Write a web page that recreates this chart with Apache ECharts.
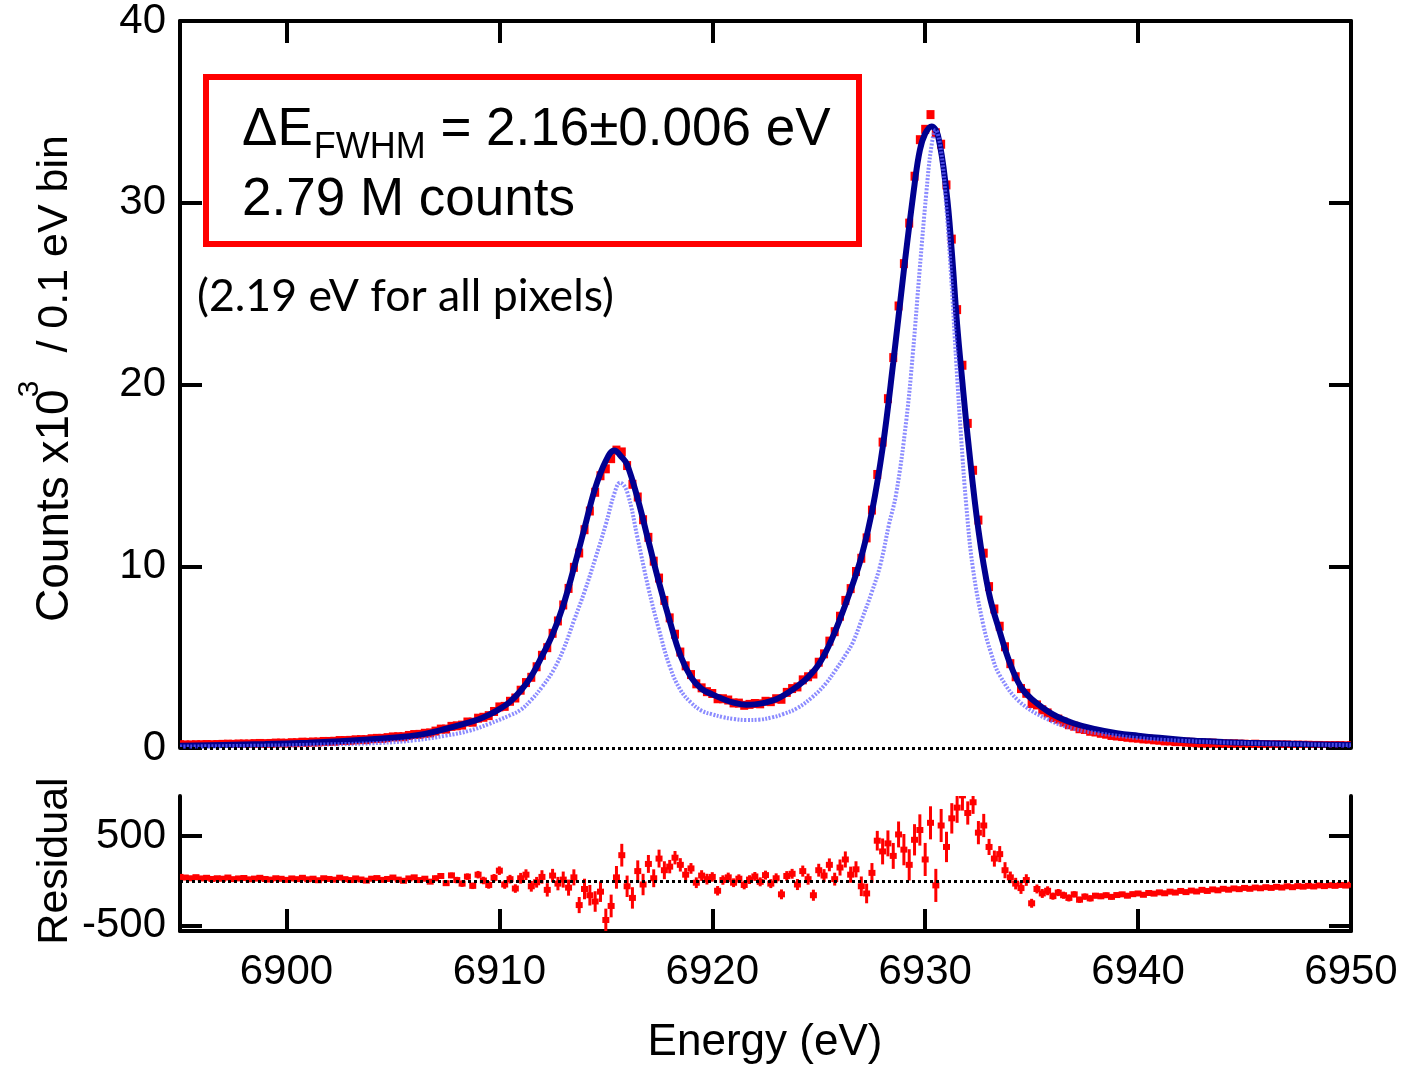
<!DOCTYPE html>
<html>
<head>
<meta charset="utf-8">
<script src="https://cdn.jsdelivr.net/npm/echarts@6/dist/echarts.min.js"></script>
<style>
html,body{margin:0;padding:0;background:#fff;}
#chart{width:1423px;height:1067px;}
</style>
</head>
<body>
<div id="chart"></div>
<script>
// ---------------- DATA ----------------
// measured spectrum, one value per 0.25 eV bin starting at 6895 eV (counts x10^3)
const binStart = 6895, binWidth = 0.25;
const counts = [
0.18,0.17,0.17,0.18,0.18,0.19,0.18,0.19,0.20,0.21,0.20,0.22,0.22,0.22,0.24,0.25,0.24,0.25,0.27,0.27,
0.26,0.29,0.29,0.32,0.31,0.33,0.33,0.36,0.36,0.37,0.41,0.41,0.42,0.45,0.46,0.46,0.51,0.53,0.53,0.57,
0.61,0.62,0.62,0.69,0.74,0.75,0.81,0.83,0.93,
1.04,1.04,1.19,1.22,1.26,1.43,1.42,1.64,1.69,1.78,2.01,2.26,
2.29,2.57,2.75,3.18,3.60,3.89,4.47,5.10,5.52,6.31,6.99,7.87,8.78,
9.94,10.73,12.01,13.04,14.07,14.98,15.36,
15.92,16.39,16.29,15.54,14.51,13.81,12.56,11.59,10.28,9.35,8.12,7.16,
6.26,5.28,4.52,4.04,3.53,3.31,
3.10,3.00,2.71,2.71,2.64,2.48,2.47,2.35,2.40,2.45,2.43,2.57,2.55,2.71,2.68,3.06,3.27,3.36,3.75,3.92,4.07,
4.72,5.18,5.88,6.40,7.25,8.12,8.77,9.71,10.44,11.56,13.09,15.05,16.83,
19.22,21.48,24.32,26.65,28.88,31.46,33.47,34.04,
34.85,33.85,33.22,30.98,28.00,24.12,21.06,17.86,15.28,12.54,10.72,
8.88,7.65,6.70,5.57,4.64,3.92,3.27,3.01,
2.45,2.37,2.10,1.93,1.68,1.59,1.43,1.28,1.20,1.06,1.02,0.92,0.88,
0.81,0.76,0.69,0.66,0.63,0.59,0.56,0.54,0.50,0.49,0.45,0.43,0.39,0.39,0.35,0.35,0.32,0.31,0.28,0.28,
0.26,0.27,0.24,0.24,0.22,0.23,0.21,0.21,0.19,0.21,0.19,0.19,0.17,0.18,0.17,0.17,0.15,0.16,0.15,0.15,
0.14,0.14,0.13,0.13,0.13,0.13,0.12,0.12
];
// residual (counts), same bins
const residual = [
45,38,30,42,28,35,22,30,25,38,20,28,33,18,26,35,22,15,30,24,12,28,20,35,18,25,8,30,22,14,36,20,10,28,16,4,25,32,12,22,38,15,2,28,40,10,25,-8,30,
55,-25,62,10,-30,48,-55,70,5,-45,35,115,
-40,20,-85,30,70,-60,-15,45,-100,60,-30,15,-75,
40,-270,-90,-160,-230,-120,-437,
-280,40,288,-60,-190,110,-40,190,30,250,120,160,
260,180,70,140,-20,60,
20,45,-110,10,40,-20,25,-45,15,50,-10,65,-30,30,-150,55,80,-40,110,20,-160,
120,60,180,20,150,240,70,130,-60,-140,90,450,330,
420,280,520,350,180,460,570,240,
650,-50,620,380,700,820,957,760,880,540,620,
380,250,300,120,40,-30,-80,10,
-250,-90,-140,-110,-170,-130,-160,-190,-150,-210,-175,-195,-165,
-172,-160,-178,-158,-150,-165,-148,-140,-155,-135,-142,-128,-138,-120,-130,-112,-125,-108,-118,-100,
-112,-95,-105,-88,-98,-84,-92,-78,-88,-74,-82,-70,-78,-66,-74,-60,-70,-58,-64,-55,
-62,-50,-58,-48,-55,-45,-52,-42
];
// statistical error (counts) per 1 eV, from 6895 eV
const errByEV = [12,13,13,14,15,16,17,18,19,21,24,27,31,36,42,48,60,75,90,115,127,120,100,75,60,53,49,50,55,62,72,90,110,145,175,185,170,130,90,65,50,40,35,31,28,25,23,21,20,19,18,17,16,15,14,13];
// fitted model (dark blue)
const fitE = [6895,6897,6899,6901,6902.5,6904,6905.5,6906.5,6907.5,6908.5,6909,6909.5,6910,6910.5,6911,6911.5,6912,6912.5,6913,6913.5,6914,6914.5,6915,6915.4,6915.75,6916,6916.5,6917,6917.5,6918,6918.5,6919,6919.5,6920,6920.5,6921,6921.6,6922,6922.5,6923,6923.5,6924,6924.5,6925,6925.5,6926,6926.5,6927,6927.5,6928,6928.5,6929,6929.5,6929.75,6930,6930.3,6930.6,6931,6931.25,6931.5,6931.75,6932,6932.5,6933,6933.5,6934,6934.5,6935,6936,6937,6938,6939,6940,6941,6942,6943,6944,6945,6946,6947,6948,6949,6950];
const fitC = [0.13,0.17,0.22,0.29,0.37,0.48,0.62,0.78,1.06,1.38,1.57,1.82,2.14,2.55,3.15,3.95,5.05,6.25,7.85,9.9,12.1,14.3,15.8,16.37,16.0,15.6,13.7,11.4,9.1,7.0,5.1,3.9,3.25,2.95,2.7,2.5,2.38,2.4,2.5,2.68,3.0,3.4,3.9,4.6,5.7,7.1,8.7,10.5,13.0,16.5,21.2,26.3,31.0,32.9,33.8,34.2,33.7,30.6,27.3,23.3,20.1,17.1,12.0,8.5,6.4,4.6,3.35,2.7,1.85,1.35,1.04,0.82,0.68,0.56,0.46,0.38,0.33,0.29,0.26,0.23,0.2,0.18,0.16];
// intrinsic line shape (light blue dotted)
const idealE = [6895,6899,6902,6904.4,6906,6907.5,6908.6,6909.5,6910.5,6911,6911.5,6912,6912.5,6913,6913.5,6914,6914.5,6915,6915.4,6915.67,6916,6916.5,6917,6917.5,6918,6918.5,6919,6919.5,6920,6920.5,6921,6921.6,6922.2,6922.8,6923.3,6924,6924.7,6925.3,6925.8,6926.3,6926.6,6927,6927.5,6927.9,6928.3,6928.64,6929.11,6929.42,6929.74,6930.05,6930.28,6930.49,6930.75,6930.99,6931.22,6931.46,6931.69,6931.93,6932.24,6932.71,6933.1,6933.5,6934.43,6935.8,6937,6938.2,6940,6942,6945,6950];
const idealC = [0.08,0.13,0.2,0.28,0.42,0.68,0.95,1.32,1.8,2.1,2.65,3.35,4.2,5.4,7.0,8.6,10.4,12.3,14.0,14.6,14.1,11.5,8.8,6.5,4.5,3.2,2.5,2.05,1.85,1.7,1.6,1.54,1.56,1.68,1.85,2.2,2.8,3.5,4.3,5.2,5.8,7.0,8.6,10.1,12.3,14.0,18.0,21.7,26.3,30.5,33.0,34.0,32.8,29.8,25.9,21.2,17.05,13.35,9.9,6.87,5.2,4.0,2.55,1.55,1.05,0.8,0.55,0.4,0.27,0.15];
// tick labels
const xTicks = [6900,6910,6920,6930,6940,6950];
const residTicks = [-500,500];

// ---------------- build ----------------
const FONT = '"Liberation Sans", Arial, sans-serif';
const energies = counts.map((_, i) => +(binStart + i * binWidth).toFixed(2));
function errAt(e){ return errByEV[Math.min(errByEV.length - 1, Math.floor(e - binStart))]; }
const mainData = counts.map((c, i) => [energies[i], c, errAt(energies[i]) / 1000]);
const resData = residual.map((r, i) => [energies[i], r, errAt(energies[i])]);
const fitData = fitE.map((e, i) => [e, fitC[i]]);
const idealData = idealE.map((e, i) => [e, idealC[i]]);

function errRender(hw, hh, lw){
  return function(params, api){
    const x = api.value(0), y = api.value(1), e = api.value(2);
    const p = api.coord([x, y]);
    const a = api.coord([x, y - e]);
    const b = api.coord([x, y + e]);
    return {type:'group', children:[
      {type:'line', shape:{x1:p[0], y1:a[1], x2:p[0], y2:b[1]}, style:{stroke:'#ff0000', lineWidth:lw}},
      {type:'rect', shape:{x:p[0]-hw, y:p[1]-hh, width:2*hw, height:2*hh}, style:{fill:'#ff0000'}}
    ]};
  };
}

const ctx = document.createElement('canvas').getContext('2d');
function tw(t, size, fam){ ctx.font = size + 'px ' + fam; return ctx.measureText(t).width; }

function txt(t, x, y, size, opts){
  opts = opts || {};
  const fam = opts.family || FONT;
  return {type:'text', x:x, y:y, rotation:opts.rotation || 0, z:10,
    style:{text:t, fontSize:size, fontFamily:fam, font:size + 'px ' + fam, fill:'#000',
      align:opts.align || 'left', textAlign:opts.align || 'left',
      verticalAlign:'middle', textVerticalAlign:'middle'}};
}

const g = [];
g.push({type:'rect', shape:{x:206, y:77, width:653, height:167}, style:{fill:'none', stroke:'#ff0000', lineWidth:6}, z:10});
const x0 = 242;
const wDE = tw('ΔE', 53, FONT);
const wSub = tw('FWHM', 36, FONT);
g.push(txt('ΔE', x0, 130, 53));
g.push(txt('FWHM', x0 + wDE + 1, 148, 36));
g.push(txt(' = 2.16±0.006 eV', x0 + wDE + wSub + 1, 130, 53));
g.push(txt('2.79 M counts', x0, 200, 53));
const noteText = '(2.19 eV for all pixels)';
const noteSize = 40 * 417 / tw(noteText, 40, 'Lato');
g.push(txt(noteText, 197, 297, noteSize, {family:'Lato'}));
// axis titles
const w1 = tw('Counts x10', 46, FONT);
g.push(txt('Counts x10', 55, 622, 46, {rotation:Math.PI/2}));
g.push(txt('3', 30, 622 - w1 + 8, 30, {rotation:Math.PI/2}));
g.push(txt('/ 0.1 eV bin', 55, 135, 43, {rotation:Math.PI/2, align:'right'}));
g.push(txt('Residual', 55, 861, 43, {rotation:Math.PI/2, align:'center'}));
g.push(txt('Energy (eV)', 765, 1043, 44, {align:'center'}));

const axLine = {show:true, onZero:false, lineStyle:{color:'#000', width:4}};
const tickStyle = {color:'#000', width:4};
const lbl = {color:'#000', fontSize:42, fontFamily:FONT, formatter: v => String(v)};
const zeroLine = {silent:true, symbol:['none','none'], label:{show:false},
  lineStyle:{color:'#000', type:[3,3], width:3}, data:[{yAxis:0}]};

const option = {
  animation:false,
  backgroundColor:'#fff',
  grid:[
    {left:180, right:72, top:20, height:728},
    {left:180, right:72, top:796, height:135}
  ],
  xAxis:[
    {gridIndex:0, type:'value', min:6895, max:6950, position:'top',
      axisLine:axLine, axisTick:{show:true, inside:true, length:22, lineStyle:tickStyle, customValues:xTicks},
      axisLabel:{show:false}, splitLine:{show:false}},
    {gridIndex:1, type:'value', min:6895, max:6950, position:'bottom',
      axisLine:axLine, axisTick:{show:true, inside:true, length:22, lineStyle:tickStyle, customValues:xTicks},
      axisLabel:Object.assign({customValues:xTicks, margin:20}, lbl), splitLine:{show:false}}
  ],
  yAxis:[
    {gridIndex:0, type:'value', min:0, max:40, interval:10, position:'left',
      axisLine:axLine, axisTick:{show:true, inside:true, length:22, lineStyle:tickStyle},
      axisLabel:Object.assign({margin:14}, lbl), splitLine:{show:false}},
    {gridIndex:0, type:'value', min:0, max:40, interval:10, position:'right',
      axisLine:axLine, axisTick:{show:true, inside:true, length:22, lineStyle:tickStyle},
      axisLabel:{show:false}, splitLine:{show:false}},
    {gridIndex:1, type:'value', min:-560, max:950, position:'left',
      axisLine:axLine, axisTick:{show:true, inside:true, length:22, lineStyle:tickStyle, customValues:residTicks},
      axisLabel:Object.assign({margin:14, customValues:residTicks}, lbl), splitLine:{show:false}},
    {gridIndex:1, type:'value', min:-560, max:950, position:'right',
      axisLine:axLine, axisTick:{show:true, inside:true, length:22, lineStyle:tickStyle, customValues:residTicks},
      axisLabel:{show:false}, splitLine:{show:false}}
  ],
  series:[
    {type:'custom', name:'data', xAxisIndex:0, yAxisIndex:0, data:mainData, clip:true,
      encode:{x:0, y:1}, renderItem:errRender(4, 4.5, 3), z:1},
    {type:'line', name:'fit', xAxisIndex:0, yAxisIndex:0, data:fitData, showSymbol:false, symbol:'none',
      smooth:0.4, lineStyle:{color:'#000090', width:6}, z:3, markLine:zeroLine},
    {type:'line', name:'intrinsic', xAxisIndex:0, yAxisIndex:0, data:idealData, showSymbol:false, symbol:'none',
      smooth:0.4, lineStyle:{color:'rgba(100,100,255,0.75)', width:4, type:[2,1.5]}, z:4},
    {type:'line', name:'zero', xAxisIndex:1, yAxisIndex:2, data:resData.map(d => [d[0], d[1]]), showSymbol:false, symbol:'none',
      lineStyle:{width:0, opacity:0}, z:1, markLine:zeroLine},
    {type:'custom', name:'residual', xAxisIndex:1, yAxisIndex:2, data:resData, clip:true,
      encode:{x:0, y:1}, renderItem:errRender(3.5, 3, 3), z:2}
  ],
  graphic:g
};
const chart = echarts.init(document.getElementById('chart'), null, {renderer:'canvas'});
chart.setOption(option);
</script>
</body>
</html>
